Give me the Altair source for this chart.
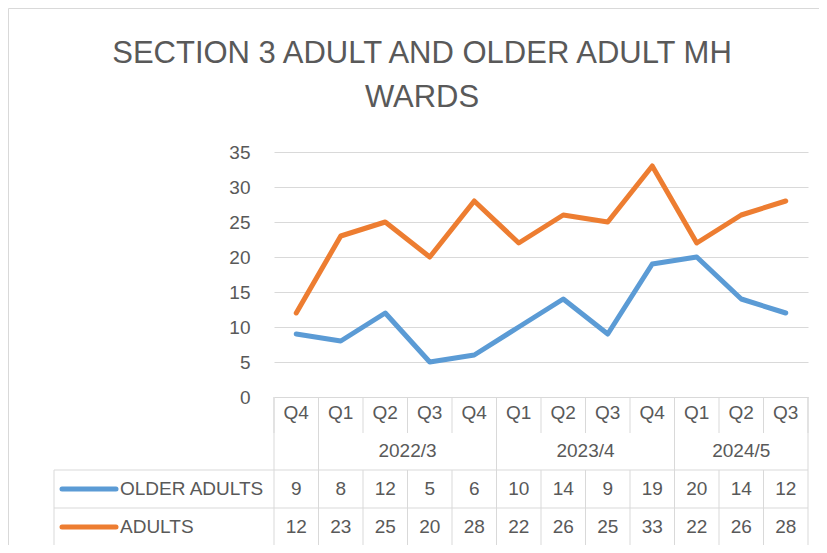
import altair as alt
import pandas as pd

quarters = ["Q4", "Q1", "Q2", "Q3", "Q4", "Q1", "Q2", "Q3", "Q4", "Q1", "Q2", "Q3"]
years = ["", "2022/3", "2022/3", "2022/3", "2022/3", "2023/4", "2023/4", "2023/4", "2023/4",
         "2024/5", "2024/5", "2024/5"]
older_adults = [9, 8, 12, 5, 6, 10, 14, 9, 19, 20, 14, 12]
adults = [12, 23, 25, 20, 28, 22, 26, 25, 33, 22, 26, 28]
series_names = ["OLDER ADULTS", "ADULTS"]
series_values = [older_adults, adults]
series_colors = ["#5B9BD5", "#ED7D31"]
title_lines = ["SECTION 3 ADULT AND OLDER ADULT MH", "WARDS"]
y_ticks = [0, 5, 10, 15, 20, 25, 30, 35]

FONT = "Liberation Sans"
TXT = "#595959"
GRID = "#D9D9D9"
W, H = 534, 245
n = len(quarters)

xscale = alt.Scale(domain=[0, n])
X = alt.X("pos:Q", scale=xscale, axis=None)

# long data
rows = []
for name, vals in zip(series_names, series_values):
    for i, v in enumerate(vals):
        rows.append({"pos": i + 0.5, "series": name, "value": v})
long_df = pd.DataFrame(rows)

q_df = pd.DataFrame({"pos": [i + 0.5 for i in range(n)], "quarter": quarters, "year": years})
yr_df = q_df[q_df["year"] != ""].groupby("year", as_index=False)["pos"].mean()

bounds = list(range(n + 1))
group_bounds = [0] + [i for i in range(1, n) if years[i] != years[i - 1]] + [n]
b_df = pd.DataFrame({"b": bounds})
gb_df = pd.DataFrame({"b": group_bounds})
one = pd.DataFrame({"a": [0]})

border = alt.Chart(one).mark_rect(fillOpacity=0, stroke=GRID, strokeWidth=1).encode(
    x=alt.value(-265.5), x2=alt.value(700), y=alt.value(-143.5), y2=alt.value(600)
)

lines = alt.Chart(long_df).mark_line(strokeWidth=5, strokeCap="round", strokeJoin="round").encode(
    x=X,
    y=alt.Y("value:Q", scale=alt.Scale(domain=[0, 35]),
            axis=alt.Axis(values=y_ticks, grid=True, gridColor=GRID, gridWidth=1, domain=False,
                          ticks=False, labelPadding=24, labelFontSize=19, labelColor=TXT,
                          labelFont=FONT, title=None)),
    color=alt.Color("series:N", scale=alt.Scale(domain=series_names, range=series_colors), legend=None),
    detail="series:N",
)

rule_style = dict(color=GRID, strokeWidth=1)
q_vlines = alt.Chart(b_df).mark_rule(**rule_style).encode(
    x=alt.X("b:Q", scale=xscale, axis=None), y=alt.value(245), y2=alt.value(281))
g_vlines = alt.Chart(gb_df).mark_rule(**rule_style).encode(
    x=alt.X("b:Q", scale=xscale, axis=None), y=alt.value(245), y2=alt.value(318))
d_vlines = alt.Chart(b_df).mark_rule(**rule_style).encode(
    x=alt.X("b:Q", scale=xscale, axis=None), y=alt.value(318), y2=alt.value(395))
leg_vline = alt.Chart(one).mark_rule(**rule_style).encode(
    x=alt.value(-220), y=alt.value(318), y2=alt.value(395))
hlines = [alt.Chart(one).mark_rule(**rule_style).encode(
    x=alt.value(-220), x2=alt.value(W), y=alt.value(yv)) for yv in (318, 356, 395)]

txt_style = dict(font=FONT, fontSize=19, color=TXT, baseline="middle")
q_text = alt.Chart(q_df).mark_text(**txt_style).encode(x=X, y=alt.value(261), text="quarter:N")
yr_text = alt.Chart(yr_df).mark_text(**txt_style).encode(x=X, y=alt.value(299), text="year:N")

row_y = [337, 375]
val_layers = []
for name, color, ry in zip(series_names, series_colors, row_y):
    sub = long_df[long_df["series"] == name]
    val_layers.append(alt.Chart(sub).mark_text(**txt_style).encode(x=X, y=alt.value(ry), text="value:Q"))
    val_layers.append(alt.Chart(one).mark_rule(color=color, strokeWidth=5, strokeCap="round").encode(
        x=alt.value(-212), x2=alt.value(-158), y=alt.value(ry)))
    val_layers.append(alt.Chart(one).mark_text(align="left", **txt_style).encode(
        x=alt.value(-154), y=alt.value(ry), text=alt.value(name)))

title_layers = []
for line, ty in zip(title_lines, [-98, -54]):
    title_layers.append(alt.Chart(one).mark_text(font=FONT, fontSize=31, color=TXT, baseline="middle").encode(
        x=alt.value(148), y=alt.value(ty), text=alt.value(line)))

chart = alt.layer(
    border, lines, q_vlines, g_vlines, d_vlines, leg_vline, *hlines, q_text, yr_text,
    *val_layers, *title_layers
).properties(
    width=W, height=H,
    autosize=alt.AutoSizeParams(type="none"),
    padding={"left": 266, "top": 144, "right": 11, "bottom": 148},
    background="white",
).configure_view(strokeWidth=0)

chart.save("out.html", embed_options={"renderer": "svg", "actions": False})
